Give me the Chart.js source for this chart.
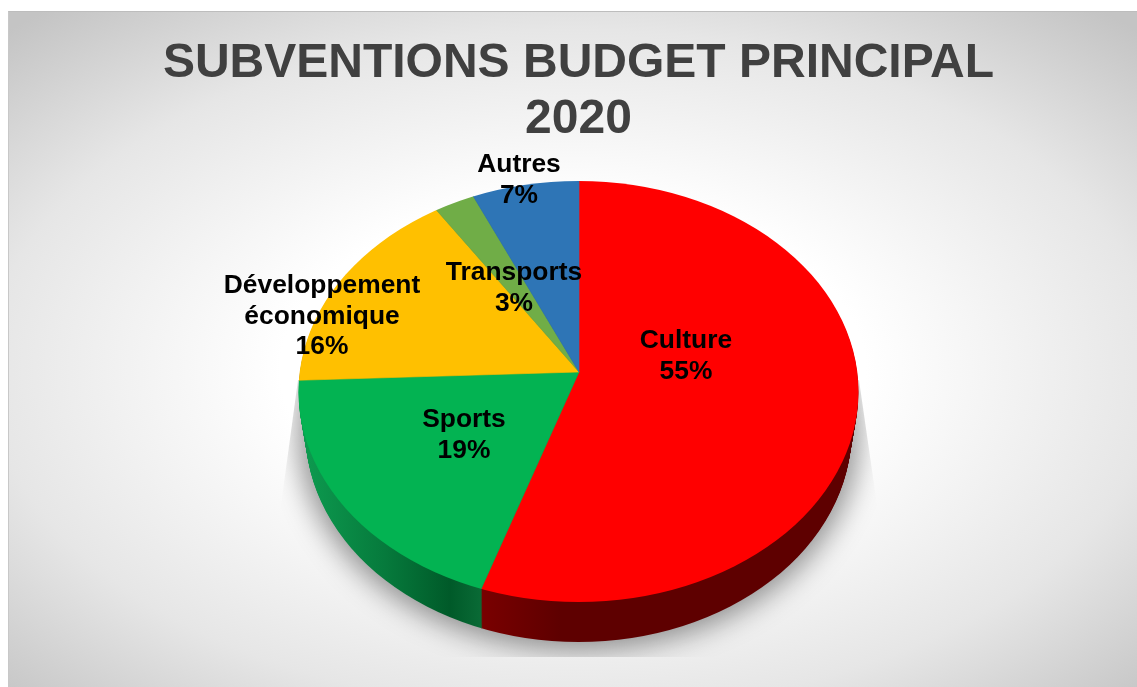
<!DOCTYPE html>
<html lang="fr"><head><meta charset="utf-8">
<script src="https://cdn.jsdelivr.net/npm/chart.js@4"></script>
<style>
html,body{margin:0;padding:0;background:#fff;overflow:hidden;width:1137px;height:687px}
#panel{position:absolute;left:8px;top:11px;width:1129px;height:676px;box-sizing:border-box;border-top:1px solid #bdbdbd;border-left:1px solid #c8c8c8;
background:radial-gradient(ellipse 72% 70% at 50% 53%,#ffffff 0%,#ffffff 36%,#e6e6e6 72%,#c4c4c4 100%)}
#wrap{position:absolute;left:20px;top:0;width:1117px;height:687px}
</style></head><body>
<div id="panel"></div>
<div id="wrap"><canvas id="c"></canvas></div>
<script>
const titleLines = ['SUBVENTIONS BUDGET PRINCIPAL', '2020'];
const categories = ['Culture', 'Sports', 'Développement économique', 'Transports', 'Autres'];
const shares = [55.4, 19.0, 16.0, 2.6, 7.0];
const sliceColors = ['#ff0000', '#03b352', '#ffc000', '#70ad47', '#2e75b6'];
const sideColors = ['#5e0000', null, '#7f6000', '#38572a', '#17395b'];
const labelLines = [['Culture'], ['Sports'], ['Développement', 'économique'], ['Transports'], ['Autres']];
const labelCentres = [[686, 341], [464, 420], [322, 286], [514, 273], [519, 165]];

const originX = 20;           // canvas offset in page
const depth = 40, shrink = 7; // extrusion
const ell = {cx: 578.5, cy: 391.5, rx: 280, ry: 210.5};
const apex = {x: 579, y: 372, squash: 219};

function layer(ctx, arcs, t, colorOf) {
  const dy = depth * t, rx = ell.rx - shrink * t;
  const ax = apex.x, ay = apex.y + dy;
  ctx.save();
  ctx.beginPath();
  ctx.ellipse(ell.cx, ell.cy + dy, rx, ell.ry, 0, 0, Math.PI * 2);
  ctx.clip();
  arcs.forEach((arc, i) => {
    ctx.beginPath();
    ctx.moveTo(ax, ay);
    ctx.ellipse(ax, ay, ell.rx * 1.4, apex.squash * 1.4, 0, arc.startAngle, arc.endAngle);
    ctx.closePath();
    const col = colorOf(i);
    ctx.fillStyle = col; ctx.strokeStyle = col; ctx.lineWidth = 0.6;
    ctx.fill(); ctx.stroke();
  });
  ctx.restore();
}

const pie3d = {
  id: 'pie3d',
  beforeDatasetDraw(chart) {
    const ctx = chart.ctx, arcs = chart.getDatasetMeta(0).data;
    ctx.save();
    ctx.translate(-originX, 0);
    // soft cast shadow, hard-clipped like the reference; the casting ellipse sits off-canvas
    ctx.save();
    ctx.beginPath();
    ctx.moveTo(298, 380); ctx.lineTo(281, 505); ctx.lineTo(281, 657);
    ctx.lineTo(877, 657); ctx.lineTo(877, 505); ctx.lineTo(859, 380);
    ctx.closePath(); ctx.clip();
    ctx.shadowColor = 'rgba(0,0,0,0.42)';
    ctx.shadowBlur = 28; ctx.shadowOffsetX = 3000; ctx.shadowOffsetY = 0;
    ctx.fillStyle = '#000';
    ctx.beginPath();
    ctx.ellipse(ell.cx - 3000, ell.cy + depth, ell.rx - shrink + 8, ell.ry + 8, 0, 0, Math.PI * 2);
    ctx.fill();
    ctx.restore();
    // side wall
    const greenSide = ctx.createLinearGradient(305, 0, 482, 0);
    greenSide.addColorStop(0, '#0d9a4f');
    greenSide.addColorStop(0.45, '#067a3c');
    greenSide.addColorStop(0.82, '#005a29');
    greenSide.addColorStop(1, '#0a6b36');
    const redSide = ctx.createLinearGradient(480, 0, 560, 0);
    redSide.addColorStop(0, '#7a0000');
    redSide.addColorStop(1, sideColors[0]);
    for (let k = depth; k >= 1; k--) {
      layer(ctx, arcs, k / depth, i => i === 1 ? greenSide : i === 0 ? redSide : sideColors[i]);
    }
    // top face
    layer(ctx, arcs, 0, i => arcs[i].options.backgroundColor);
    ctx.restore();
    return false;
  },
  afterDatasetsDraw(chart) {
    const ctx = chart.ctx;
    ctx.save();
    ctx.translate(-originX, 0);
    ctx.fillStyle = '#000';
    ctx.font = 'bold 26.4px "Liberation Sans", Arial, sans-serif';
    ctx.textAlign = 'center'; ctx.textBaseline = 'middle';
    shares.forEach((v, i) => {
      const lines = labelLines[i].concat(Math.round(v) + '%');
      lines.forEach((s, j) => ctx.fillText(s, labelCentres[i][0], labelCentres[i][1] + j * 30.5));
    });
    ctx.restore();
  }
};

new Chart(document.getElementById('c'), {
  type: 'pie',
  data: {labels: categories, datasets: [{data: shares, backgroundColor: sliceColors, borderWidth: 0}]},
  options: {
    responsive: true, maintainAspectRatio: false, animation: false,
    layout: {padding: {top: 0}},
    events: [],
    plugins: {
      legend: {display: false}, tooltip: {enabled: false},
      title: {display: true, text: titleLines, color: '#404040',
        font: {family: '"Liberation Sans", Arial, sans-serif', size: 48, weight: 'bold', lineHeight: 1.17},
        padding: {top: 36, bottom: 10}}
    }
  },
  plugins: [pie3d]
});
</script></body></html>
